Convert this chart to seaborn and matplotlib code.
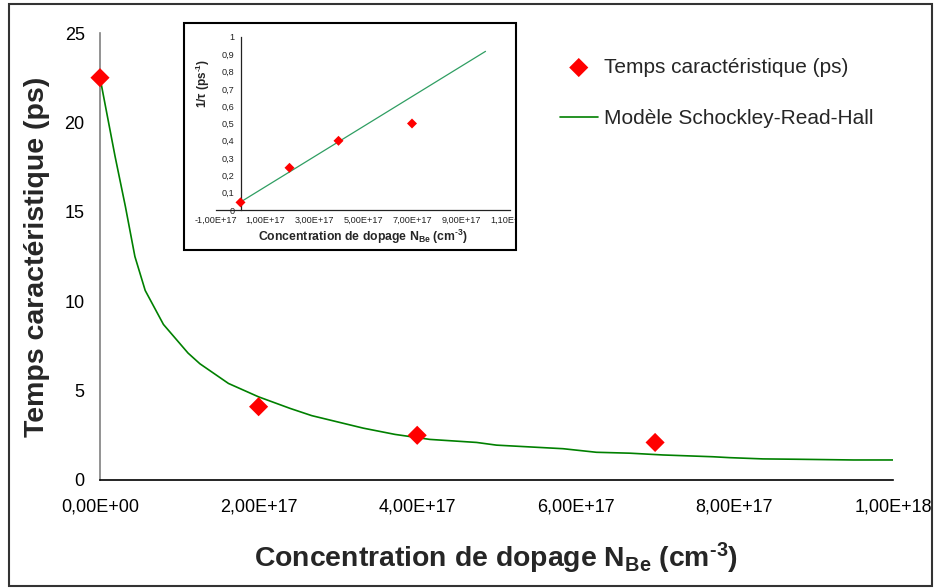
import numpy as np
import pandas as pd
import matplotlib
matplotlib.use("Agg")
import matplotlib.pyplot as plt
import matplotlib.transforms as mtransforms
from matplotlib.patches import Rectangle
import seaborn as sns

# Measured characteristic times versus Be doping
dopage = [0.0, 2.0e17, 4.0e17, 7.0e17]
temps_ps = [22.5, 4.1, 2.5, 2.1]

# Shockley-Read-Hall model curve (tau vs N)
modele_n = [0.0, 0.19e17, 0.32e17, 0.44e17, 0.57e17, 0.80e17, 1.11e17, 1.26e17,
            1.62e17, 2.0e17, 2.4e17, 2.67e17, 3.32e17, 3.72e17, 4.16e17, 4.75e17,
            5.0e17, 5.84e17, 6.26e17, 6.68e17, 7.1e17, 7.73e17, 7.94e17, 8.36e17,
            8.79e17, 9.5e17, 1.0e18]
modele_tau = [22.5, 18.1, 15.3, 12.5, 10.6, 8.7, 7.1, 6.5,
              5.4, 4.65, 4.0, 3.6, 2.9, 2.55, 2.27, 2.1,
              1.95, 1.75, 1.55, 1.5, 1.4, 1.3, 1.25, 1.18,
              1.16, 1.12, 1.12]

# Inset: inverse times and linear fit
inv_temps = [0.044, 0.244, 0.40, 0.50]
fit_n = [0.0, 1.0e18]
fit_inv = [0.046, 0.917]

# Tick labels
x_ticks = [0, 2e17, 4e17, 6e17, 8e17, 1e18]
x_ticklabels = ["0,00E+00", "2,00E+17", "4,00E+17", "6,00E+17", "8,00E+17", "1,00E+18"]
y_ticks = [0, 5, 10, 15, 20, 25]
y_ticklabels = ["0", "5", "10", "15", "20", "25"]
in_x_ticks = [-1e17, 1e17, 3e17, 5e17, 7e17, 9e17, 1.1e18]
in_x_ticklabels = ["-1,00E+17", "1,00E+17", "3,00E+17", "5,00E+17",
                   "7,00E+17", "9,00E+17", "1,10E+18"]
in_y_ticks = [0, 0.1, 0.2, 0.3, 0.4, 0.5, 0.6, 0.7, 0.8, 0.9, 1.0]
in_y_ticklabels = ["0", "0,1", "0,2", "0,3", "0,4", "0,5", "0,6", "0,7", "0,8", "0,9", "1"]

sns.set_style("white")
plt.rcParams["font.family"] = ["Liberation Sans", "DejaVu Sans"]
plt.rcParams["mathtext.fontset"] = "custom"
plt.rcParams["mathtext.rm"] = "Liberation Sans:bold"
plt.rcParams["mathtext.bf"] = "Liberation Sans:bold"
plt.rcParams["mathtext.default"] = "bf"

W, H = 934, 588
fig = plt.figure(figsize=(W / 100, H / 100), dpi=100)
fig.patch.set_facecolor("white")


def fx(px):
    return px / W


def fy(py):
    return 1 - py / H


AXIS_LABEL = r"Concentration de dopage N$_{\mathbf{Be}}$ (cm$^{\text{-3}}$)"

df_pts = pd.DataFrame({"N": dopage, "tau": temps_ps})
df_mod = pd.DataFrame({"N": modele_n, "tau": modele_tau})

ax = fig.add_axes([fx(100), fy(480), fx(893) - fx(100), fy(33) - fy(480)])
sns.lineplot(data=df_mod, x="N", y="tau", ax=ax, color="#008000", lw=1.2,
             sort=False, estimator=None, label="Modèle Schockley-Read-Hall", zorder=2)
sns.scatterplot(data=df_pts, x="N", y="tau", ax=ax, color="#ff0000", marker="D",
                s=95, edgecolor="none", label="Temps caractéristique (ps)", zorder=3,
                clip_on=False)

ax.set_xlim(0, 1e18)
ax.set_ylim(0, 25)
ax.set_xticks(x_ticks, x_ticklabels)
ax.set_yticks(y_ticks, y_ticklabels)
ax.tick_params(axis="both", direction="out", length=4, width=1, labelsize=13,
               colors="black")
ax.tick_params(axis="x", pad=9)
ax.tick_params(axis="y", pad=7, color="#808080")
for side in ("top", "right"):
    ax.spines[side].set_visible(False)
ax.spines["left"].set_color("#808080")
ax.spines["left"].set_linewidth(1.2)
ax.spines["bottom"].set_color("black")
ax.spines["bottom"].set_linewidth(1.2)
ax.set_facecolor("none")

ax.set_xlabel(AXIS_LABEL, fontsize=20.4, fontweight="bold", va="baseline")
ax.xaxis.set_label_coords(0.5, (480 - 567) / 447)
ax.set_ylabel("Temps caractéristique (ps)", fontsize=20.5, fontweight="bold",
              va="center")
ax.yaxis.set_label_coords((37 - 100) / 793, 0.5)

handles, labels = ax.get_legend_handles_labels()
order = [labels.index("Temps caractéristique (ps)"),
         labels.index("Modèle Schockley-Read-Hall")]
leg = ax.legend([handles[i] for i in order], [labels[i] for i in order],
                loc="upper left", bbox_to_anchor=(fx(560), fy(58)),
                bbox_transform=fig.transFigure, frameon=False, fontsize=15,
                handlelength=1.8, handletextpad=0.3, labelspacing=1.55,
                borderpad=0, borderaxespad=0)

# Inset frame
fig.add_artist(Rectangle((fx(184), fy(250)), fx(516) - fx(184), fy(23) - fy(250),
                         transform=fig.transFigure, facecolor="white",
                         edgecolor="black", lw=1.5, zorder=3))

axi = fig.add_axes([fx(216), fy(210), fx(510) - fx(216), fy(37) - fy(210)], zorder=4)
axi.set_facecolor("none")
df_in = pd.DataFrame({"N": dopage, "inv": inv_temps})
df_fit = pd.DataFrame({"N": fit_n, "inv": fit_inv})
sns.lineplot(data=df_fit, x="N", y="inv", ax=axi, color="#2f9e62", lw=0.9,
             sort=False, estimator=None, zorder=2)
sns.scatterplot(data=df_in, x="N", y="inv", ax=axi, color="#ff0000", marker="D",
                s=26, edgecolor="none", zorder=3, clip_on=False)
axi.set_xlim(-1e17, 1.1e18)
axi.set_ylim(0, 1)
axi.set_xticks(in_x_ticks, in_x_ticklabels)
axi.set_yticks(in_y_ticks, in_y_ticklabels)
axi.tick_params(axis="both", direction="out", length=2.5, width=0.8, labelsize=6.6,
                colors="#222222", pad=2)
for side in ("top", "right"):
    axi.spines[side].set_visible(False)
axi.spines["left"].set_position(("data", 0))
for side in ("left", "bottom"):
    axi.spines[side].set_color("#222222")
    axi.spines[side].set_linewidth(0.9)
axi.set_xlabel(AXIS_LABEL, fontsize=8.8, fontweight="bold", va="baseline")
axi.xaxis.set_label_coords(0.5, (210 - 241) / 173)
axi.set_ylabel(r"1/τ (ps$^{\text{-1}}$)", fontsize=8.5, fontweight="bold", va="center")
axi.yaxis.set_label_coords((203 - 216) / 294, (210 - 83) / 173)

clip = mtransforms.TransformedBbox(
    mtransforms.Bbox.from_extents(fx(185), fy(249), fx(515), fy(24)), fig.transFigure)
for lbl in axi.get_xticklabels():
    lbl.set_clip_on(True)
    lbl.set_clip_box(clip)

# Outer border of the figure
fig.add_artist(Rectangle((fx(9), fy(586)), fx(932) - fx(9), fy(4) - fy(586),
                         transform=fig.transFigure, facecolor="none",
                         edgecolor="#333333", lw=1.5, zorder=10))

fig.savefig("out.png", dpi=100)
